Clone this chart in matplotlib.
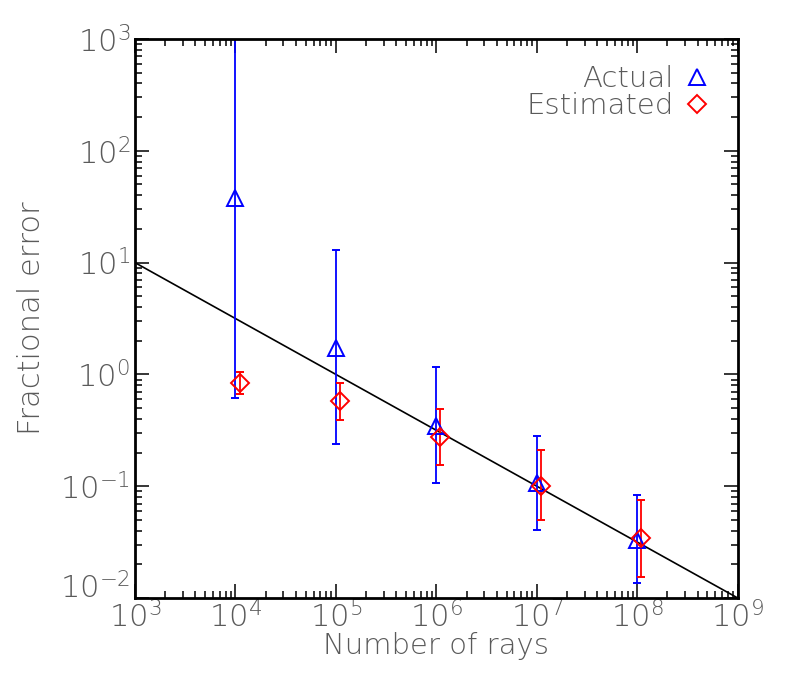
import numpy as np
import matplotlib.pyplot as plt
from matplotlib.ticker import LogLocator, NullFormatter
from matplotlib.lines import Line2D
from matplotlib import font_manager

# data
n_rays = [1e4, 1e5, 1e6, 1e7, 1e8]
actual = [37.8, 1.72, 0.345, 0.106, 0.033]
actual_lo = [0.62, 0.237, 0.107, 0.0406, 0.0136]
actual_hi = [2000.0, 13.0, 1.16, 0.283, 0.0828]

n_rays_est = [1.1e4, 1.1e5, 1.1e6, 1.1e7, 1.1e8]
estimated = [0.84, 0.574, 0.273, 0.101, 0.0342]
est_lo = [0.67, 0.394, 0.154, 0.0495, 0.0153]
est_hi = [1.04, 0.84, 0.49, 0.209, 0.0754]

# reference 1/sqrt(N) line
line_x = [1e3, 1e9]
line_y = [10.0, 0.01]

x_ticks = [1e3, 1e4, 1e5, 1e6, 1e7, 1e8, 1e9]
y_ticks = [1e-2, 1e-1, 1e0, 1e1, 1e2, 1e3]

# thin, wide font to look like the IDL stroke font
dv_light = [f for f in font_manager.fontManager.ttflist
            if f.name == 'DejaVu Sans' and f.weight in (200, 'extra-light', 'light', 300)]
fam = 'DejaVu Sans' if dv_light else 'Roboto'
plt.rcParams['font.family'] = fam
plt.rcParams['font.weight'] = 'light'
plt.rcParams['axes.labelweight'] = 'light'
plt.rcParams['mathtext.fontset'] = 'custom'
plt.rcParams['mathtext.rm'] = fam + ':light'
plt.rcParams['mathtext.it'] = fam + ':italic:light'

text_col = '#5a5a5a'
fs = 21

fig = plt.figure(figsize=(7.89, 6.77), dpi=100)
ax = fig.add_axes([0.171, 0.1167, 0.764, 0.8257])

ax.plot(line_x, line_y, color='black', lw=1.2)

a = np.array(actual)
ax.errorbar(n_rays, actual,
            yerr=[a - np.array(actual_lo), np.array(actual_hi) - a],
            fmt='^', color='blue', mfc='none', mec='blue', ms=11, mew=1.4,
            elinewidth=1.3, capsize=3.2, capthick=1.3)
e = np.array(estimated)
ax.errorbar(n_rays_est, estimated,
            yerr=[e - np.array(est_lo), np.array(est_hi) - e],
            fmt='D', color='red', mfc='none', mec='red', ms=9, mew=1.4,
            elinewidth=1.3, capsize=3.2, capthick=1.3)

ax.set_xscale('log')
ax.set_yscale('log')
ax.set_xticks(x_ticks)
ax.set_yticks(y_ticks)
ax.set_xlim(1e3, 1e9)
ax.set_ylim(1e-2, 1e3)

ax.xaxis.set_minor_locator(LogLocator(base=10, subs=np.arange(2, 10), numticks=20))
ax.yaxis.set_minor_locator(LogLocator(base=10, subs=np.arange(2, 10), numticks=20))
ax.xaxis.set_minor_formatter(NullFormatter())
ax.yaxis.set_minor_formatter(NullFormatter())

ax.tick_params(which='both', direction='in', top=True, right=True,
               labelsize=fs + 1, labelcolor=text_col, width=1.1)
ax.tick_params(which='major', length=10)
ax.tick_params(which='minor', length=5)
ax.tick_params(axis='x', pad=2)
for s in ax.spines.values():
    s.set_linewidth(2)

# lowest y label sits just above the axis corner, as in the reference
ax.yaxis.get_major_ticks()[0].label1.set_va('baseline')

ax.set_xlabel('Number of rays', fontsize=fs, color=text_col, labelpad=-1)
ax.set_ylabel('Fractional error', fontsize=fs + 1, color=text_col, labelpad=10)

handles = [Line2D([], [], ls='none', marker='^', ms=11, mfc='none', mec='blue', mew=1.4),
           Line2D([], [], ls='none', marker='D', ms=9, mfc='none', mec='red', mew=1.4)]
leg = ax.legend(handles, ['Actual', 'Estimated'], loc='upper right',
                markerfirst=False, frameon=False, fontsize=fs,
                handletextpad=0.3, labelspacing=-0.05,
                borderaxespad=0.5, handlelength=1.0)
for t in leg.get_texts():
    t.set_color(text_col)

fig.savefig('out.png', dpi=100)
